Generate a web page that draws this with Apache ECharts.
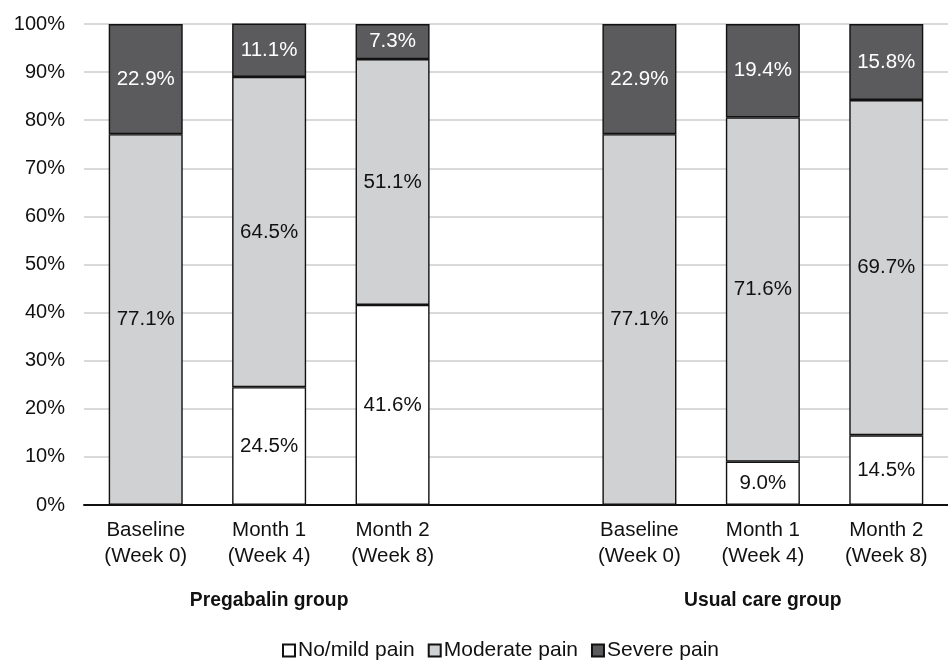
<!DOCTYPE html>
<html><head><meta charset="utf-8">
<script src="https://cdn.jsdelivr.net/npm/echarts@6/dist/echarts.min.js"></script>
<style>html,body{margin:0;padding:0;background:#fff}#c{width:948px;height:660px}</style>
</head><body><div id="c"></div>
<script>
const categories = ['Baseline\n(Week 0)', 'Month 1\n(Week 4)', 'Month 2\n(Week 8)', '', 'Baseline\n(Week 0)', 'Month 1\n(Week 4)', 'Month 2\n(Week 8)'];
const groupLabels = ['', 'Pregabalin group', '', '', '', 'Usual care group', ''];
const noMild   = [0, 24.5, 41.6, null, 0, 9.0, 14.5];
const moderate = [77.1, 64.5, 51.1, null, 77.1, 71.6, 69.7];
const severe   = [22.9, 11.1, 7.3, null, 22.9, 19.4, 15.8];
const yTicks = [0, 10, 20, 30, 40, 50, 60, 70, 80, 90, 100];

const font = 'Liberation Sans, Arial, sans-serif';
function mk(name, data, color, labelColor) {
  return {
    name, type: 'bar', stack: 'all', data, barWidth: 74,
    itemStyle: { color, borderColor: '#111', borderWidth: 1.4 },
    label: {
      show: true, position: 'inside', fontFamily: font, fontSize: 20.5, color: labelColor,
      formatter: p => (p.value ? p.value.toFixed(1) + '%' : '')
    },
    emphasis: { disabled: true }
  };
}
const chart = echarts.init(document.getElementById('c'));
chart.setOption({
  animation: false,
  textStyle: { fontFamily: font },
  grid: { left: 84, top: 24, width: 875, height: 481 },
  xAxis: [{
    type: 'category', data: categories, position: 'bottom',
    axisLine: { lineStyle: { color: '#111', width: 2 } },
    axisTick: { show: false },
    axisLabel: { fontFamily: font, fontSize: 20.5, color: '#111', lineHeight: 26, margin: 12, interval: 0 }
  }, {
    type: 'category', data: groupLabels, position: 'bottom', offset: 78,
    axisLine: { show: false }, axisTick: { show: false },
    axisLabel: { fontFamily: font, fontSize: 19.3, fontWeight: 'bold', color: '#111', interval: 0 }
  }],
  yAxis: {
    type: 'value', min: 0, max: 100, interval: 10,
    axisLine: { show: false }, axisTick: { show: false },
    splitLine: { lineStyle: { color: '#d9d9d9', width: 2 } },
    axisLabel: { fontFamily: font, fontSize: 20, color: '#111', margin: 19,
      formatter: v => (yTicks.includes(v) ? v + '%' : '') }
  },
  legend: {
    top: 635, left: 277, itemWidth: 12, itemHeight: 12, itemGap: 13,
    icon: 'rect',
    textStyle: { fontFamily: font, fontSize: 21, color: '#111', padding: [0, 0, 0, -2] },
    data: ['No/mild pain', 'Moderate pain', 'Severe pain']
  },
  series: [
    mk('No/mild pain', noMild, '#ffffff', '#111'),
    mk('Moderate pain', moderate, '#d0d1d3', '#111'),
    mk('Severe pain', severe, '#5b5b5d', '#ffffff')
  ]
});
</script></body></html>
